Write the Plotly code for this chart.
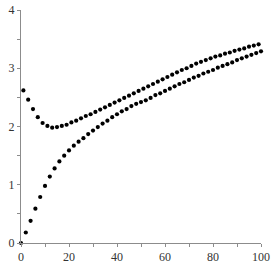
import plotly.graph_objects as go

lower_x = list(range(0, 101, 2))
lower_y = [0.00, 0.18, 0.38, 0.59, 0.79, 0.98, 1.14, 1.28, 1.40, 1.50,
           1.59, 1.67, 1.74, 1.80, 1.87, 1.93, 1.99, 2.05, 2.10, 2.16,
           2.21, 2.26, 2.30, 2.35, 2.39, 2.42, 2.45, 2.49, 2.54, 2.57,
           2.61, 2.65, 2.69, 2.73, 2.76, 2.80, 2.84, 2.87, 2.91, 2.94,
           2.97, 3.01, 3.04, 3.07, 3.10, 3.14, 3.17, 3.20, 3.23, 3.26,
           3.29]

upper_x = list(range(1, 100, 2))
upper_y = [2.62, 2.46, 2.30, 2.16, 2.06, 2.01, 1.98, 1.99, 2.01, 2.03,
           2.07, 2.10, 2.14, 2.18, 2.21, 2.25, 2.29, 2.33, 2.37, 2.41,
           2.45, 2.49, 2.53, 2.57, 2.61, 2.65, 2.69, 2.73, 2.77, 2.81,
           2.85, 2.89, 2.93, 2.97, 3.00, 3.04, 3.08, 3.11, 3.14, 3.17,
           3.20, 3.22, 3.25, 3.27, 3.30, 3.32, 3.34, 3.37, 3.39, 3.41]

fig = go.Figure()
for xs, ys in [(upper_x, upper_y), (lower_x, lower_y)]:
    fig.add_trace(go.Scatter(x=xs, y=ys, mode="markers",
                             marker=dict(color="black", size=4.2),
                             cliponaxis=False, showlegend=False,
                             hoverinfo="skip"))

serif = "Liberation Serif, Times New Roman, DejaVu Serif, serif"
axis_common = dict(showgrid=False, zeroline=False, showline=True,
                   linecolor="#8c8c8c", linewidth=1, ticks="outside",
                   ticklen=3, tickcolor="#8c8c8c", automargin=False,
                   tickfont=dict(family=serif, size=12, color="#333333"))

fig.update_xaxes(range=[0, 100], tickmode="linear", tick0=0, dtick=20,
                 minor=dict(dtick=10, ticks="outside", ticklen=3, tickcolor="#8c8c8c"),
                 **axis_common)
fig.update_yaxes(range=[0, 4], tickmode="linear", tick0=0, dtick=1,
                 minor=dict(dtick=0.5, ticks="outside", ticklen=3, tickcolor="#8c8c8c"),
                 **axis_common)

fig.update_layout(width=273, height=273, margin=dict(l=21, r=12, t=10, b=30),
                  paper_bgcolor="white", plot_bgcolor="white",
                  font=dict(family=serif))
fig.write_html("out.html", config={"displayModeBar": False},
               post_script="document.body.style.margin='0';document.body.style.overflow='hidden';")
